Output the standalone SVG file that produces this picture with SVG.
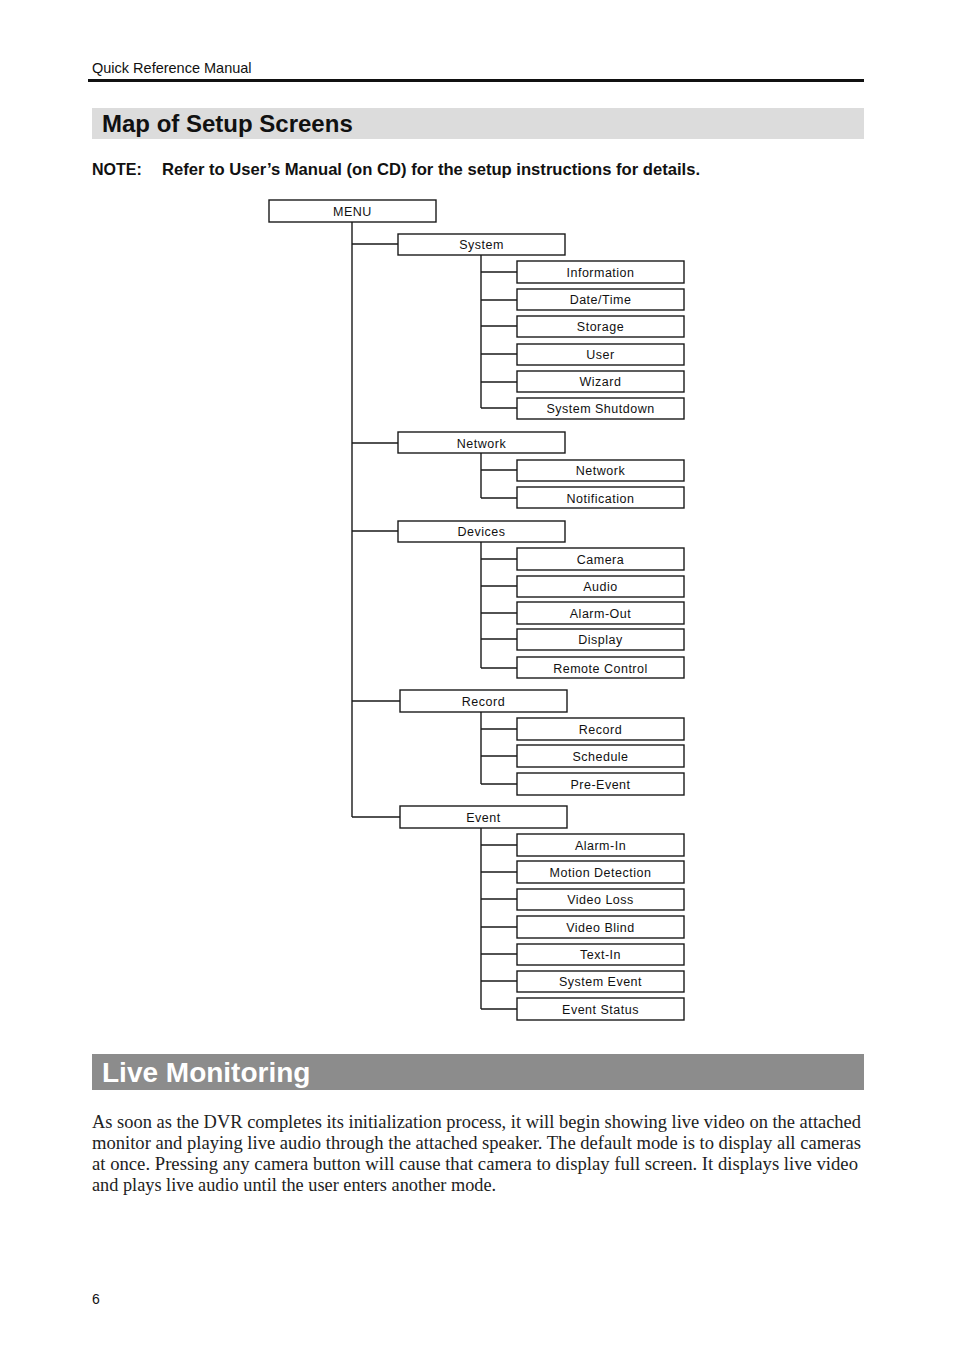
<svg xmlns="http://www.w3.org/2000/svg" width="954" height="1352" viewBox="0 0 954 1352">
<style>
.b{fill:#fff;stroke:#1a1a1a;stroke-width:1.4}
.t{font-family:"Liberation Sans",Arial,sans-serif;font-size:12.5px;letter-spacing:0.5px;text-anchor:middle;fill:#111}
.c{fill:none;stroke:#1a1a1a;stroke-width:1.4}
.p{font-family:"Liberation Serif","Times New Roman",serif;font-size:18.3px;fill:#222}
</style>
<rect width="954" height="1352" fill="#fff"/>
<text x="92" y="73" font-family="Liberation Sans,Arial,sans-serif" font-size="14.5" fill="#111">Quick Reference Manual</text>
<rect x="88" y="79" width="776" height="3" fill="#111"/>
<rect x="92" y="108" width="772" height="31" fill="#dcdcdc"/>
<text x="102" y="132" font-family="Liberation Sans,Arial,sans-serif" font-size="24" font-weight="bold" fill="#111">Map of Setup Screens</text>
<text x="92" y="175" font-family="Liberation Sans,Arial,sans-serif" font-size="16" font-weight="bold" fill="#111">NOTE:</text>
<text x="162" y="175" font-family="Liberation Sans,Arial,sans-serif" font-size="16.5" font-weight="bold" fill="#111" textLength="538" lengthAdjust="spacingAndGlyphs">Refer to User’s Manual (on CD) for the setup instructions for details.</text>

<g id="connectors">
<path class="c" d="M352 222V817M352 244H398M352 443H398M352 531H398M352 701H400M352 817H400"/>
<path class="c" d="M481 255V408M481 272H517M481 300H517M481 326H517M481 354H517M481 382H517M481 408H517"/>
<path class="c" d="M481 453V498M481 470H517M481 498H517"/>
<path class="c" d="M481 542V668M481 559H517M481 586H517M481 613H517M481 639H517M481 668H517"/>
<path class="c" d="M481 712V784M481 729H517M481 756H517M481 784H517"/>
<path class="c" d="M481 828V1009M481 845H517M481 872H517M481 899H517M481 927H517M481 954H517M481 981H517M481 1009H517"/>
</g>

<g id="menu"><rect class="b" x="269" y="200" width="167" height="22"/><text class="t" x="352.5" y="216">MENU</text></g>
<g id="system"><rect class="b" x="398" y="234" width="167" height="21"/><text class="t" x="481.5" y="249">System</text></g>
<g id="information"><rect class="b" x="517" y="261" width="167" height="22"/><text class="t" x="600.5" y="277">Information</text></g>
<g id="datetime"><rect class="b" x="517" y="289" width="167" height="21"/><text class="t" x="600.5" y="304">Date/Time</text></g>
<g id="storage"><rect class="b" x="517" y="316" width="167" height="21"/><text class="t" x="600.5" y="331">Storage</text></g>
<g id="user"><rect class="b" x="517" y="344" width="167" height="21"/><text class="t" x="600.5" y="359">User</text></g>
<g id="wizard"><rect class="b" x="517" y="371" width="167" height="21"/><text class="t" x="600.5" y="386">Wizard</text></g>
<g id="shutdown"><rect class="b" x="517" y="398" width="167" height="21"/><text class="t" x="600.5" y="413">System Shutdown</text></g>

<g id="network"><rect class="b" x="398" y="432" width="167" height="21"/><text class="t" x="481.5" y="448">Network</text></g>
<g id="network2"><rect class="b" x="517" y="460" width="167" height="21"/><text class="t" x="600.5" y="475">Network</text></g>
<g id="notification"><rect class="b" x="517" y="487" width="167" height="21"/><text class="t" x="600.5" y="503">Notification</text></g>

<g id="devices"><rect class="b" x="398" y="521" width="167" height="21"/><text class="t" x="481.5" y="536">Devices</text></g>
<g id="camera"><rect class="b" x="517" y="548" width="167" height="22"/><text class="t" x="600.5" y="564">Camera</text></g>
<g id="audio"><rect class="b" x="517" y="576" width="167" height="21"/><text class="t" x="600.5" y="591">Audio</text></g>
<g id="alarmout"><rect class="b" x="517" y="602" width="167" height="22"/><text class="t" x="600.5" y="618">Alarm-Out</text></g>
<g id="display"><rect class="b" x="517" y="629" width="167" height="21"/><text class="t" x="600.5" y="644">Display</text></g>
<g id="remote"><rect class="b" x="517" y="657" width="167" height="21"/><text class="t" x="600.5" y="673">Remote Control</text></g>

<g id="record"><rect class="b" x="400" y="690" width="167" height="22"/><text class="t" x="483.5" y="706">Record</text></g>
<g id="record2"><rect class="b" x="517" y="718" width="167" height="22"/><text class="t" x="600.5" y="734">Record</text></g>
<g id="schedule"><rect class="b" x="517" y="745" width="167" height="22"/><text class="t" x="600.5" y="761">Schedule</text></g>
<g id="preevent"><rect class="b" x="517" y="773" width="167" height="22"/><text class="t" x="600.5" y="789">Pre-Event</text></g>

<g id="event"><rect class="b" x="400" y="806" width="167" height="22"/><text class="t" x="483.5" y="822">Event</text></g>
<g id="alarmin"><rect class="b" x="517" y="834" width="167" height="22"/><text class="t" x="600.5" y="850">Alarm-In</text></g>
<g id="motion"><rect class="b" x="517" y="861" width="167" height="22"/><text class="t" x="600.5" y="877">Motion Detection</text></g>
<g id="videoloss"><rect class="b" x="517" y="889" width="167" height="21"/><text class="t" x="600.5" y="904">Video Loss</text></g>
<g id="videoblind"><rect class="b" x="517" y="916" width="167" height="22"/><text class="t" x="600.5" y="932">Video Blind</text></g>
<g id="textin"><rect class="b" x="517" y="944" width="167" height="21"/><text class="t" x="600.5" y="959">Text-In</text></g>
<g id="sysevent"><rect class="b" x="517" y="971" width="167" height="21"/><text class="t" x="600.5" y="986">System Event</text></g>
<g id="eventstatus"><rect class="b" x="517" y="998" width="167" height="22"/><text class="t" x="600.5" y="1014">Event Status</text></g>

<rect x="92" y="1054" width="772" height="36" fill="#8c8c8c"/>
<text x="102" y="1082" font-family="Liberation Sans,Arial,sans-serif" font-size="28" font-weight="bold" fill="#fff">Live Monitoring</text>
<text class="p" x="92" y="1128" textLength="769" lengthAdjust="spacingAndGlyphs">As soon as the DVR completes its initialization process, it will begin showing live video on the attached</text>
<text class="p" x="92" y="1149" textLength="769" lengthAdjust="spacingAndGlyphs">monitor and playing live audio through the attached speaker.  The default mode is to display all cameras</text>
<text class="p" x="92" y="1170" textLength="766" lengthAdjust="spacingAndGlyphs">at once.  Pressing any camera button will cause that camera to display full screen.  It displays live video</text>
<text class="p" x="92" y="1191">and plays live audio until the user enters another mode.</text>
<text x="92" y="1304" font-family="Liberation Sans,Arial,sans-serif" font-size="14" fill="#111">6</text>
</svg>
